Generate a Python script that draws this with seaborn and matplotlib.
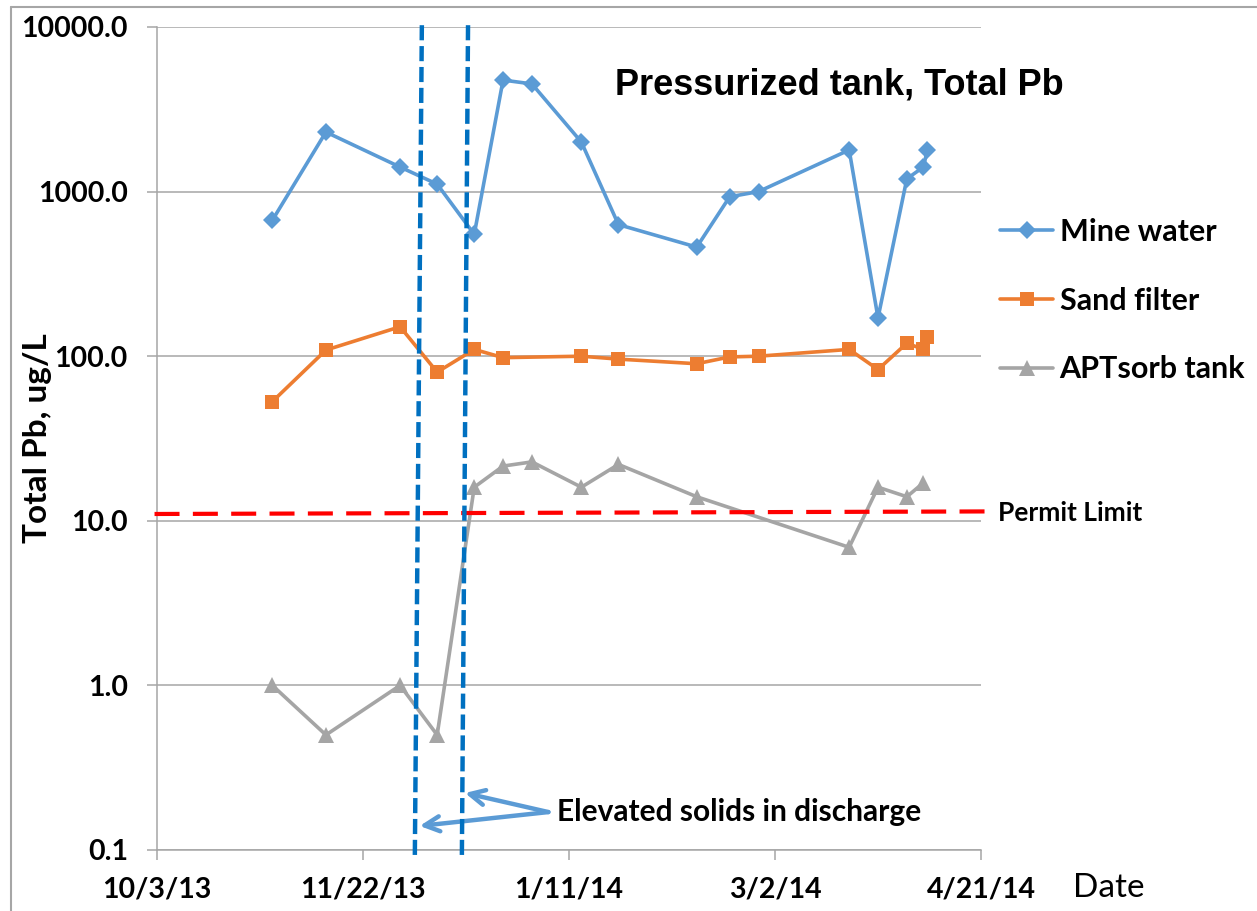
import numpy as np
import pandas as pd
import matplotlib
matplotlib.use("Agg")
import matplotlib.pyplot as plt
import matplotlib.dates as mdates
import matplotlib.transforms as mtransforms
from matplotlib.lines import Line2D
from matplotlib.font_manager import FontProperties, findfont
import seaborn as sns

# ---------------- data ----------------
mine_dates = ["2013-10-31", "2013-11-13", "2013-12-01", "2013-12-10", "2013-12-19",
              "2013-12-26", "2014-01-02", "2014-01-14", "2014-01-23", "2014-02-11",
              "2014-02-19", "2014-02-26", "2014-03-20", "2014-03-27", "2014-04-03",
              "2014-04-07", "2014-04-08"]
mine_values = [670, 2300, 1410, 1110, 550, 4760, 4510, 2000, 630, 460,
               930, 1000, 1790, 171, 1195, 1410, 1790]

sand_dates = ["2013-10-31", "2013-11-13", "2013-12-01", "2013-12-10", "2013-12-19",
              "2013-12-26", "2014-01-14", "2014-01-23", "2014-02-11",
              "2014-02-19", "2014-02-26", "2014-03-20", "2014-03-27", "2014-04-03",
              "2014-04-07", "2014-04-08"]
sand_values = [53, 109, 151, 80, 110, 98, 100, 96, 90, 99, 100, 110, 83, 120, 110, 130]

apt_dates = ["2013-10-31", "2013-11-13", "2013-12-01", "2013-12-10", "2013-12-19",
             "2013-12-26", "2014-01-02", "2014-01-14", "2014-01-23", "2014-02-11",
             "2014-03-20", "2014-03-27", "2014-04-03", "2014-04-07"]
apt_values = [1.0, 0.5, 1.0, 0.5, 16, 21.5, 22.8, 16, 22, 14, 6.9, 16, 14, 17]

series_names = ["Mine water", "Sand filter", "APTsorb tank"]
series_colors = ["#5B9BD5", "#ED7D31", "#A5A5A5"]
series_markers = ["D", "s", "^"]

permit_limit = [11.0, 11.4]          # left / right end of the dashed red line
solids_dates_top = ["2013-12-06 07:00", "2013-12-17 12:00"]
solids_dates_bottom = ["2013-12-04 14:00", "2013-12-16 00:00"]

x_tick_dates = ["2013-10-03", "2013-11-22", "2014-01-11", "2014-03-02", "2014-04-21"]
x_tick_labels = ["10/3/13", "11/22/13", "1/11/14", "3/2/14", "4/21/14"]
y_ticks = [0.1, 1.0, 10.0, 100.0, 1000.0, 10000.0]

# --------------- frame ----------------
frames = []
for name, d, v in zip(series_names, [mine_dates, sand_dates, apt_dates],
                      [mine_values, sand_values, apt_values]):
    frames.append(pd.DataFrame({"date": pd.to_datetime(d), "value": v, "series": name}))
df = pd.concat(frames, ignore_index=True)

sns.set_theme(style="white")
CAL = ["Lato", "DejaVu Sans"]
plt.rcParams["font.family"] = CAL

# find an Arial-like bold font for the title
title_fp = None
for fam in ["Liberation Sans", "Arimo", "Arial", "Helvetica", "Nimbus Sans", "DejaVu Sans"]:
    try:
        path = findfont(FontProperties(family=fam, weight="bold"), fallback_to_default=False)
        title_fp = FontProperties(fname=path, size=26)
        break
    except Exception:
        continue

W, H = 1257, 911
fig = plt.figure(figsize=(W / 100, H / 100), dpi=100)
ax = fig.add_axes([157 / W, 1 - 850 / H, (981 - 157) / W, (850 - 27) / H])

sns.lineplot(data=df, x="date", y="value", hue="series", style="series",
             hue_order=series_names, style_order=series_names,
             palette=dict(zip(series_names, series_colors)),
             markers=dict(zip(series_names, series_markers)),
             dashes=False, linewidth=2.6, markersize=10, markeredgewidth=0,
             sort=False, legend=False, ax=ax)
for ln, m in zip(ax.lines[:3], series_markers):
    if m == "D":
        ln.set_markersize(9.5)
    elif m == "^":
        ln.set_markersize(11)

ax.set_yscale("log")
ax.set_ylim(0.1, 10000)
ax.set_xlim(pd.Timestamp(x_tick_dates[0]), pd.Timestamp(x_tick_dates[-1]))

ax.set_yticks(y_ticks)
ax.set_yticklabels([f"{v:.1f}" for v in y_ticks])
ax.yaxis.set_minor_locator(matplotlib.ticker.NullLocator())
ax.set_xticks(pd.to_datetime(x_tick_dates))
ax.set_xticklabels(x_tick_labels)
ax.xaxis.set_minor_locator(matplotlib.ticker.NullLocator())

grid_c = "#A6A6A6"
ax.grid(axis="y", color=grid_c, linewidth=1.1)
ax.grid(axis="x", visible=False)
for s in ["top", "right"]:
    ax.spines[s].set_visible(False)
for s in ["left", "bottom"]:
    ax.spines[s].set_color(grid_c)
    ax.spines[s].set_linewidth(1.1)
ax.tick_params(axis="both", which="major", length=7, width=1.1, color=grid_c,
               direction="out", left=True, bottom=True)
ax.tick_params(axis="y", pad=14, labelsize=20.5)
ax.tick_params(axis="x", pad=12, labelsize=20.5)
for lab in ax.get_xticklabels() + ax.get_yticklabels():
    lab.set_fontweight("bold")
    lab.set_color("black")

ax.set_xlabel("")
ax.set_ylabel("Total Pb, ug/L", fontsize=24, fontweight="bold", color="black",
              va="center")
ax.yaxis.set_label_coords((38 - 157) / (981 - 157), 0.5)

# permit limit
tr_ax_data = mtransforms.blended_transform_factory(ax.transAxes, ax.transData)
ax.plot([-0.003, 1.005], permit_limit, transform=tr_ax_data, color="#FF0000",
        linewidth=3, dashes=(6, 3.2), clip_on=False, zorder=4)
ax.text(1.021, np.mean(permit_limit), "Permit Limit", transform=tr_ax_data,
        ha="left", va="center", fontsize=19, fontweight="bold", color="black")

# elevated solids vertical dashed lines
tr_data_ax = mtransforms.blended_transform_factory(ax.transData, ax.transAxes)
for dt, db in zip(solids_dates_top, solids_dates_bottom):
    ax.plot([mdates.date2num(pd.Timestamp(db)), mdates.date2num(pd.Timestamp(dt))],
            [-0.006, 1.006], transform=tr_data_ax, color="#0070C0", linewidth=3.2,
            dashes=(3.4, 1.3), clip_on=False, zorder=5)

# annotation
txt_x = mdates.date2num(pd.Timestamp("2014-01-08"))
ax.text(txt_x, 0.17, "Elevated solids in discharge", ha="left", va="center",
        fontsize=21.5, fontweight="bold", color="black")
arrow_start = (mdates.date2num(pd.Timestamp("2014-01-06")), 0.17)
for tgt in [(mdates.date2num(pd.Timestamp("2013-12-16 18:00")), 0.222),
            (mdates.date2num(pd.Timestamp("2013-12-05 18:00")), 0.14)]:
    ax.annotate("", xy=tgt, xytext=arrow_start,
                arrowprops=dict(arrowstyle="->,head_length=0.9,head_width=0.45",
                                color="#5B9BD5", lw=3.2, shrinkA=0, shrinkB=0))

# title inside the plot
ax.text(0.556, 0.929, "Pressurized tank, Total Pb", transform=ax.transAxes,
        ha="left", va="center", color="black", fontproperties=title_fp)

# legend
leg = ax.legend(handles=ax.lines[:3], labels=series_names, loc="upper left",
                bbox_to_anchor=(1000 / W, 1 - 218 / H), bbox_transform=fig.transFigure,
                frameon=False, fontsize=22, handlelength=1.75, handletextpad=0.2,
                labelspacing=1.33, borderpad=0, borderaxespad=0)
for t in leg.get_texts():
    t.set_fontweight("bold")
    t.set_color("black")

# Date label
fig.text(1073 / W, 1 - 888 / H, "Date", ha="left", va="center", fontsize=24,
         color="black")

# outer frame (top and left edges)
fig.add_artist(Line2D([11 / W, 1], [1 - 7 / H, 1 - 7 / H], transform=fig.transFigure,
                      color="#A6A6A6", linewidth=1.5))
fig.add_artist(Line2D([11 / W, 11 / W], [0, 1 - 7 / H], transform=fig.transFigure,
                      color="#A6A6A6", linewidth=1.5))

fig.savefig("out.png", dpi=100)
